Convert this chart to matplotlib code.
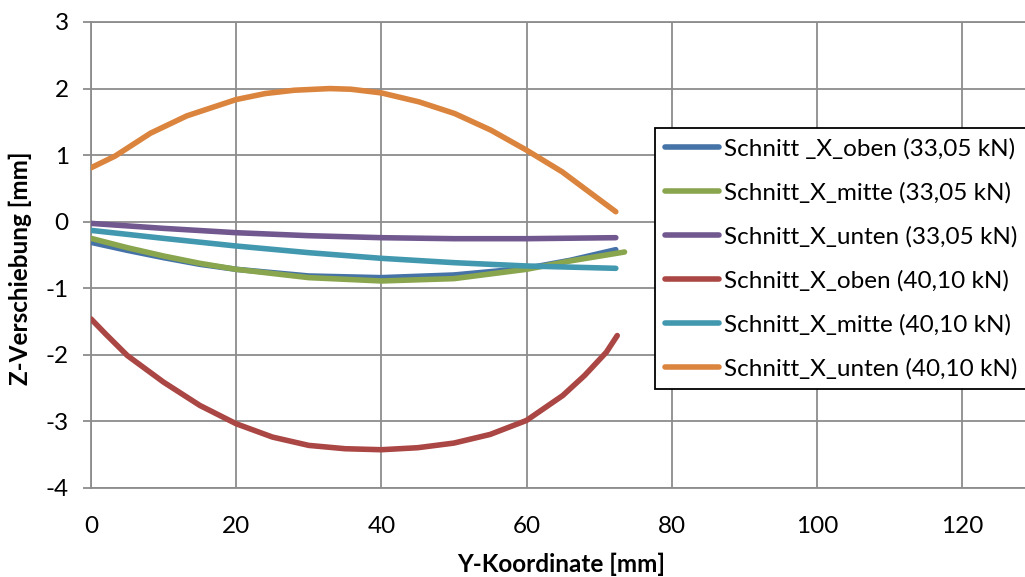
import matplotlib
matplotlib.use("Agg")
import matplotlib.pyplot as plt

# Y-Koordinate [mm] sample points
x_oben_33 = [0, 5, 10, 15, 20, 30, 40, 50, 60, 66, 72.3]
z_oben_33 = [-0.31, -0.43, -0.54, -0.64, -0.715, -0.815, -0.84, -0.80, -0.70, -0.58, -0.42]

x_mitte_33 = [0, 5, 10, 15, 20, 30, 40, 50, 60, 66, 73.5]
z_mitte_33 = [-0.25, -0.39, -0.515, -0.625, -0.715, -0.84, -0.89, -0.855, -0.715, -0.59, -0.455]

x_unten_33 = [0, 10, 20, 30, 40, 50, 60, 72.3]
z_unten_33 = [-0.025, -0.10, -0.165, -0.21, -0.24, -0.255, -0.255, -0.24]

x_oben_40 = [0, 2, 5, 10, 15, 20, 25, 30, 35, 40, 45, 50, 55, 60, 65, 68, 71, 72.5]
z_oben_40 = [-1.46, -1.685, -2.01, -2.41, -2.76, -3.035, -3.235, -3.36, -3.41, -3.425,
             -3.395, -3.325, -3.195, -2.985, -2.61, -2.31, -1.96, -1.71]

x_mitte_40 = [0, 10, 20, 30, 40, 50, 60, 72.3]
z_mitte_40 = [-0.13, -0.25, -0.365, -0.465, -0.55, -0.615, -0.665, -0.70]

x_unten_40 = [0, 3.3, 8.2, 13.2, 20, 24, 28, 32.9, 35.8, 40, 45.2, 50.1, 55.1, 60, 64.9, 68.9, 72.3]
z_unten_40 = [0.81, 0.985, 1.33, 1.59, 1.835, 1.925, 1.975, 2.0, 1.99, 1.935, 1.8, 1.625,
              1.375, 1.075, 0.75, 0.425, 0.15]

labels = ["Schnitt _X_oben (33,05 kN)", "Schnitt_X_mitte (33,05 kN)", "Schnitt_X_unten (33,05 kN)",
          "Schnitt_X_oben (40,10 kN)", "Schnitt_X_mitte (40,10 kN)", "Schnitt_X_unten (40,10 kN)"]
colors = ["#4572A7", "#89A54E", "#71588F", "#AA4643", "#4198AF", "#DB843D"]

x_ticks = [0, 20, 40, 60, 80, 100, 120]
y_ticks = [-4, -3, -2, -1, 0, 1, 2, 3]

plt.rcParams['font.family'] = ['Lato', 'DejaVu Sans']
plt.rcParams['axes.unicode_minus'] = False

W, H = 1025, 577
fs = 17.5
fig = plt.figure(figsize=(W / 100, H / 100), dpi=100)
ax = fig.add_axes([91 / W, 1 - 488 / H, (1031 - 91) / W, (488 - 22) / H])

series = [(x_oben_33, z_oben_33), (x_mitte_33, z_mitte_33), (x_unten_33, z_unten_33),
          (x_oben_40, z_oben_40), (x_mitte_40, z_mitte_40), (x_unten_40, z_unten_40)]
for i, (xs, zs) in enumerate(series):
    ax.plot(xs, zs, color=colors[i], lw=4, solid_capstyle='round', solid_joinstyle='round',
            label=labels[i], zorder=3)

grid_c = "#8c8c8c"
ax.set_xlim(0, 129.5)
ax.set_ylim(-4, 3)
ax.set_xticks(x_ticks)
ax.set_yticks(y_ticks)
ax.grid(True, color=grid_c, lw=1.3)
for s in ["top", "left", "bottom"]:
    ax.spines[s].set_color(grid_c)
    ax.spines[s].set_linewidth(1.3)
ax.spines["right"].set_visible(False)
ax.tick_params(axis='y', length=6, width=1.3, color=grid_c, pad=10, labelsize=fs)
ax.tick_params(axis='x', length=0, pad=20, labelsize=fs)

fig.text(561 / W, 1 - 564 / H, "Y-Koordinate [mm]", ha='center', va='center',
         fontsize=fs, fontweight='bold')
fig.text(20 / W, 1 - 268 / H, "Z-Verschiebung [mm]", ha='center', va='center',
         rotation=90, fontsize=fs, fontweight='bold')

leg = ax.legend(loc='upper left', bbox_to_anchor=(655 / W, 1 - 128 / H), bbox_transform=fig.transFigure,
                borderaxespad=0, fancybox=False, framealpha=1, edgecolor='black', fontsize=fs,
                handlelength=2.2, handletextpad=0.2, labelspacing=0.92, borderpad=0.42)
leg.get_frame().set_linewidth(1.3)

fig.savefig("out.png", dpi=100)
